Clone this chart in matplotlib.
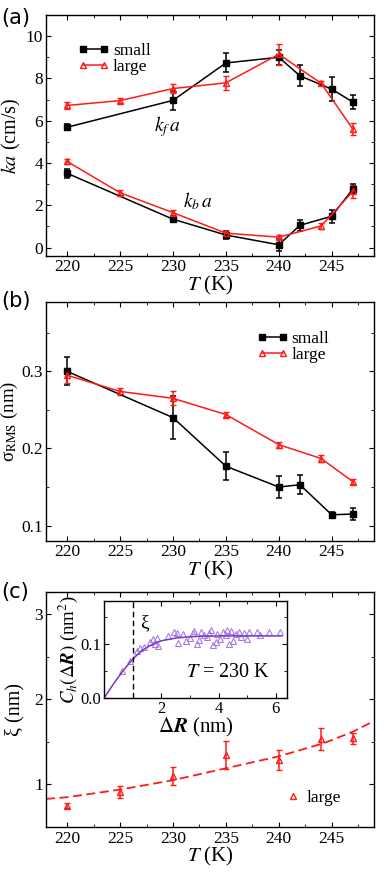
import numpy as np
import matplotlib
matplotlib.use('Agg')
import matplotlib.pyplot as plt
from matplotlib.ticker import MultipleLocator

plt.rcParams['font.family'] = ['Liberation Serif', 'DejaVu Serif']
plt.rcParams['mathtext.fontset'] = 'stix'
plt.rcParams['xtick.direction'] = 'in'
plt.rcParams['ytick.direction'] = 'in'
plt.rcParams['xtick.top'] = True
plt.rcParams['ytick.right'] = True
plt.rcParams['xtick.major.size'] = 3.5
plt.rcParams['ytick.major.size'] = 3.5
plt.rcParams['xtick.minor.size'] = 2
plt.rcParams['ytick.minor.size'] = 2
plt.rcParams['xtick.major.pad'] = 2.5
plt.rcParams['ytick.major.pad'] = 2
plt.rcParams['axes.linewidth'] = 1.0

# temperatures (K)
T_small = [220, 230, 235, 240, 242, 245, 247]
T_large = [220, 225, 230, 235, 240, 244, 247]

# (a) rate constants
kf_small = [5.69, 6.96, 8.73, 9.0, 8.12, 7.49, 6.88]
kf_small_err = [0.15, 0.45, 0.45, 0.35, 0.5, 0.58, 0.33]
kf_large = [6.72, 6.95, 7.52, 7.79, 9.14, 7.77, 5.6]
kf_large_err = [0.17, 0.13, 0.2, 0.32, 0.5, 0.1, 0.3]
kb_small = [3.51, 1.34, 0.59, 0.13, 1.05, 1.48, 2.77]
kb_small_err = [0.2, 0.15, 0.2, 0.28, 0.25, 0.3, 0.25]
kb_large = [4.07, 2.59, 1.65, 0.68, 0.49, 1.02, 2.65]
kb_large_err = [0.12, 0.12, 0.12, 0.12, 0.1, 0.15, 0.3]

# (b) roughness
sig_small = [0.300, 0.240, 0.177, 0.150, 0.153, 0.114, 0.115]
sig_small_err = [0.018, 0.028, 0.018, 0.014, 0.012, 0.004, 0.008]
sig_large = [0.295, 0.274, 0.265, 0.244, 0.205, 0.187, 0.157]
sig_large_err = [0.010, 0.005, 0.009, 0.003, 0.004, 0.005, 0.003]

# (c) correlation length
xi_large = [0.75, 0.915, 1.10, 1.35, 1.29, 1.535, 1.54]
xi_large_err = [0.03, 0.07, 0.11, 0.165, 0.12, 0.13, 0.06]
T_fit = [218, 220, 225, 230, 235, 240, 244, 245, 247, 249]
xi_fit = [0.83, 0.85, 0.94, 1.05, 1.19, 1.33, 1.475, 1.52, 1.62, 1.745]

# inset: height-height correlation at 230 K
dR = [0.62, 0.9, 1.15, 1.25, 1.38, 1.62, 1.7, 1.78, 1.85, 1.9, 2.25, 2.45, 2.55,
      2.6, 2.75, 2.85, 3.0, 3.1, 3.15, 3.25, 3.3, 3.4, 3.5, 3.6, 3.65, 3.75, 3.8,
      3.9, 3.95, 4.05, 4.15, 4.25, 4.3, 4.35, 4.45, 4.5, 4.6, 4.7, 4.8, 4.9, 5.0,
      5.05, 5.35, 5.45, 5.75, 6.15]
Ch = [0.050, 0.069, 0.087, 0.092, 0.095, 0.104, 0.110, 0.100, 0.112, 0.097,
      0.114, 0.122, 0.121, 0.102, 0.118, 0.106, 0.112, 0.120, 0.124, 0.101,
      0.108, 0.123, 0.117, 0.113, 0.120, 0.125, 0.099, 0.103, 0.118, 0.110,
      0.122, 0.116, 0.126, 0.100, 0.124, 0.105, 0.119, 0.123, 0.113, 0.121,
      0.109, 0.122, 0.123, 0.116, 0.123, 0.123]
dR_fit = [0, 0.35, 0.7, 1.0, 1.3, 1.6, 2.0, 2.5, 3.0, 3.5, 4.0, 5.0, 6.2]
Ch_fit = [0, 0.028, 0.053, 0.072, 0.087, 0.097, 0.106, 0.111, 0.1135, 0.1145,
          0.115, 0.115, 0.115]
xi_230 = 1.0

red = '#ff1a1a'
purple_line = '#7a35c8'
purple_pt = '#a77be0'

fig = plt.figure(figsize=(3.88, 8.76), dpi=100)
ax1 = fig.add_axes([0.1186, 0.7078, 0.8454, 0.2751])
ax2 = fig.add_axes([0.1186, 0.3824, 0.8454, 0.2729])
ax3 = fig.add_axes([0.1186, 0.0559, 0.8454, 0.2683])
axi = fig.add_axes([0.268, 0.2029, 0.4725, 0.1114])

sq = dict(color='k', marker='s', ms=4, lw=1.1, capsize=2, elinewidth=1.1, capthick=1.1)
tri = dict(color=red, marker='^', ms=5, mfc='none', mew=1.0, lw=1.1, capsize=2,
           elinewidth=1.1, capthick=1.1)
leg_kw = dict(loc='upper left', frameon=False, fontsize=12.5, numpoints=2,
              handlelength=1.8, handletextpad=0.2, borderpad=0, borderaxespad=0,
              labelspacing=0.0)

# panel (a)
e1 = ax1.errorbar(T_small, kf_small, yerr=kf_small_err, **sq)
e2 = ax1.errorbar(T_large, kf_large, yerr=kf_large_err, **tri)
ax1.errorbar(T_small, kb_small, yerr=kb_small_err, **sq)
ax1.errorbar(T_large, kb_large, yerr=kb_large_err, **tri)
ax1.text(228.2, 5.7, r'$k_f\,a$', fontsize=14, va='center')
ax1.text(230.9, 2.2, r'$k_b\,a$', fontsize=14, va='center')
ax1.set_xlim(218, 249)
ax1.set_ylim(-0.4, 11)
ax1.yaxis.set_major_locator(MultipleLocator(2))
ax1.yaxis.set_minor_locator(MultipleLocator(1))
ax1.set_ylabel(r'$ka$ (cm/s)', fontsize=14.5, labelpad=2)
ax1.legend([e1[0], e2[0]], ['small', 'large'], bbox_to_anchor=(0.098, 0.885), **leg_kw)

# panel (b)
e1 = ax2.errorbar(T_small, sig_small, yerr=sig_small_err, **sq)
e2 = ax2.errorbar(T_large, sig_large, yerr=sig_large_err, **tri)
ax2.set_xlim(218, 249)
ax2.set_ylim(0.08, 0.39)
ax2.yaxis.set_major_locator(MultipleLocator(0.1))
ax2.yaxis.set_minor_locator(MultipleLocator(0.05))
ax2.set_ylabel('σ$_{\\mathrm{RMS}}$ (nm)', fontsize=13.5, labelpad=1)
ax2.legend([e1[0], e2[0]], ['small', 'large'], bbox_to_anchor=(0.642, 0.88), **leg_kw)

# panel (c)
ax3.plot(T_fit, xi_fit, color=red, lw=1.3, dashes=(5, 2.5))
e3 = ax3.errorbar(T_large, xi_large, yerr=xi_large_err, ls='none',
                  color=red, marker='^', ms=5, mfc='none', mew=1.0, capsize=2,
                  elinewidth=1.1, capthick=1.1)
ax3.set_xlim(218, 249)
ax3.set_ylim(0.5, 3.26)
ax3.yaxis.set_major_locator(MultipleLocator(1))
ax3.yaxis.set_minor_locator(MultipleLocator(0.5))
ax3.set_ylabel('ξ (nm)', fontsize=14.5, labelpad=7)
ax3.legend([e3[0]], ['large'], loc='upper left', bbox_to_anchor=(0.725, 0.16),
           frameon=False, fontsize=12.5, numpoints=1, handlelength=1.0,
           handletextpad=0.3, borderpad=0, borderaxespad=0)

for ax in (ax1, ax2, ax3):
    ax.xaxis.set_major_locator(MultipleLocator(5))
    ax.xaxis.set_minor_locator(MultipleLocator(2.5))
    ax.tick_params(which='both', labelsize=12.5)
    ax.set_xlabel(r'$T$ (K)', fontsize=15, labelpad=-1)

# inset
axi.plot(dR, Ch, ls='none', marker='^', ms=4.5, mfc='none', mec=purple_pt, mew=0.8)
axi.plot(dR_fit, Ch_fit, color=purple_line, lw=1.1)
axi.axvline(xi_230, color='k', lw=1.0, dashes=(4, 2.5))
axi.text(xi_230 + 0.25, 0.139, 'ξ', fontsize=14, va='center')
axi.text(2.85, 0.048, r'$T$ = 230 K', fontsize=14.5, va='center')
axi.set_xlim(0, 6.4)
axi.set_ylim(0, 0.18)
axi.xaxis.set_major_locator(MultipleLocator(2))
axi.xaxis.set_minor_locator(MultipleLocator(1))
axi.yaxis.set_major_locator(MultipleLocator(0.1))
axi.yaxis.set_minor_locator(MultipleLocator(0.05))
axi.yaxis.set_major_formatter(plt.FormatStrFormatter('%.1f'))
axi.tick_params(which='both', labelsize=12, pad=2)
axi.set_xticks([2, 4, 6])
axi.set_xlabel(r'$\Delta\mathbfit{R}$ (nm)', fontsize=15, labelpad=-1)
axi.set_ylabel(r'$C_h(\Delta\mathbfit{R})$ (nm$^2$)', fontsize=13.5, labelpad=0)

for lab, y in (('(a)', 0.991), ('(b)', 0.668), ('(c)', 0.336)):
    fig.text(0.004, y, lab, fontsize=15, family='DejaVu Sans', va='top')

fig.savefig('out.png', dpi=100)
